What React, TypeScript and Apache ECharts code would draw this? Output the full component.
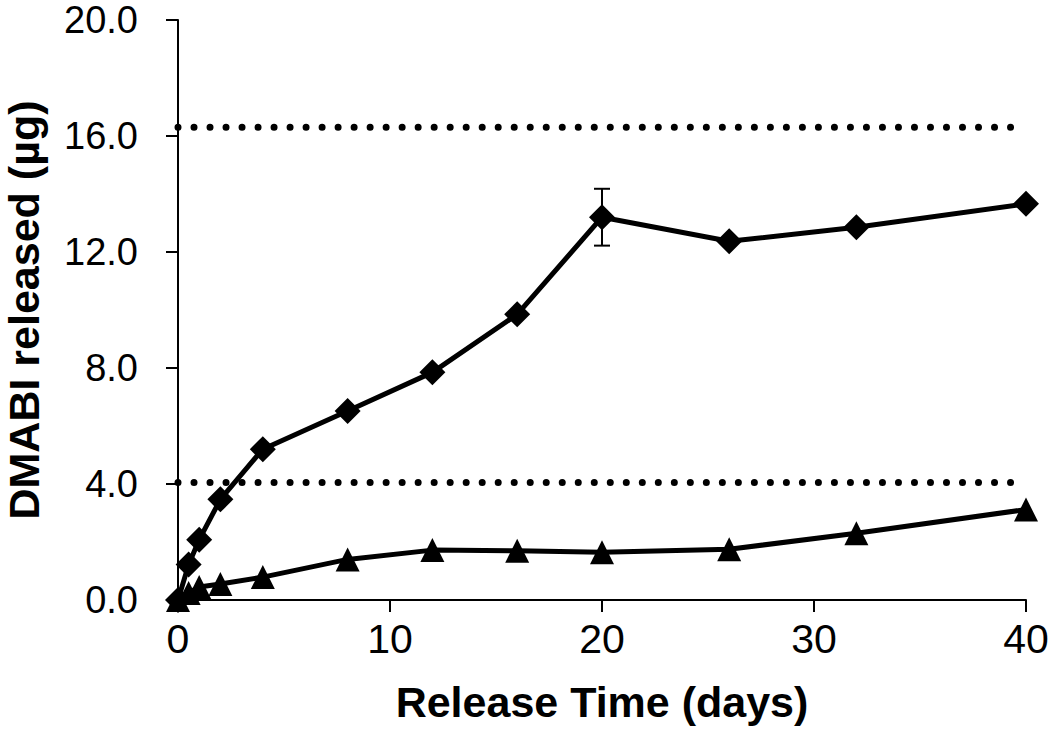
import React, { useEffect, useRef } from "react";
import * as echarts from "echarts";

const days = [0, 0.5, 1, 2, 4, 8, 12, 16, 20, 26, 32, 40];
const releasedHigh = [0, 1.22, 2.08, 3.47, 5.2, 6.52, 7.85, 9.85, 13.2, 12.37, 12.85, 13.66];
const releasedLow = [0, 0.24, 0.45, 0.55, 0.79, 1.4, 1.72, 1.7, 1.65, 1.75, 2.3, 3.12];
const errorBars = [[20, 12.22, 14.18]];
const upperLimit = 16.3;
const lowerLimit = 4.05;
const limitSpan = [0, 39.3];

const FONT = "'Liberation Sans', Arial, sans-serif";

export default function App() {
  const ref = useRef<HTMLDivElement>(null);
  useEffect(() => {
    document.body.style.margin = "0";
    const chart = echarts.init(ref.current!, null, { renderer: "svg" });
    const lineStyle = { color: "#000", width: 5 };
    const dotted = (v: number) => ({
      type: "line",
      data: limitSpan.map((x) => [x, v]),
      symbol: "none",
      silent: true,
      z: 1,
      lineStyle: { color: "#000", width: 7, type: [0.01, 16], cap: "round" },
    });
    chart.setOption({
      animation: false,
      backgroundColor: "#fff",
      grid: { left: 178, right: 24, top: 20, bottom: 141, containLabel: false, outerBoundsMode: "none" },
      xAxis: {
        type: "value",
        min: 0,
        max: 40,
        interval: 10,
        name: "Release Time (days)",
        nameLocation: "middle",
        nameGap: 80,
        nameTextStyle: { fontFamily: FONT, fontWeight: "bold", fontSize: 43, color: "#000" },
        axisLine: { show: true, onZero: false, lineStyle: { color: "#000", width: 2 } },
        axisTick: { show: true, length: 12, inside: false, lineStyle: { color: "#000", width: 2 } },
        splitLine: { show: false },
        axisLabel: { fontFamily: FONT, fontSize: 41, color: "#000", margin: 18 },
      },
      yAxis: {
        type: "value",
        min: 0,
        max: 20,
        interval: 4,
        name: "DMABI released (µg)",
        nameLocation: "middle",
        nameGap: 133,
        nameTextStyle: { fontFamily: FONT, fontWeight: "bold", fontSize: 43, color: "#000" },
        axisLine: { show: true, onZero: false, lineStyle: { color: "#000", width: 2 } },
        axisTick: { show: true, length: 12, inside: false, lineStyle: { color: "#000", width: 2 } },
        splitLine: { show: false },
        axisLabel: {
          fontFamily: FONT,
          fontSize: 38,
          lineHeight: 36,
          color: "#000",
          margin: 40,
          formatter: (v: number) => v.toFixed(1),
        },
      },
      series: [
        dotted(upperLimit),
        dotted(lowerLimit),
        {
          type: "line",
          data: days.map((d, i) => [d, releasedLow[i]]),
          symbol: "triangle",
          symbolSize: 24,
          itemStyle: { color: "#000" },
          lineStyle,
          z: 3,
        },
        {
          type: "line",
          data: days.map((d, i) => [d, releasedHigh[i]]),
          symbol: "diamond",
          symbolSize: 26,
          itemStyle: { color: "#000" },
          lineStyle,
          z: 4,
        },
        {
          type: "custom",
          data: errorBars,
          z: 5,
          renderItem: (params: any, api: any) => {
            const x = api.value(0);
            const lo = api.coord([x, api.value(1)]);
            const hi = api.coord([x, api.value(2)]);
            const hw = 8;
            const style = { stroke: "#000", lineWidth: 2 };
            return {
              type: "group",
              children: [
                { type: "line", shape: { x1: lo[0], y1: lo[1], x2: hi[0], y2: hi[1] }, style },
                { type: "line", shape: { x1: lo[0] - hw, y1: lo[1], x2: lo[0] + hw, y2: lo[1] }, style },
                { type: "line", shape: { x1: hi[0] - hw, y1: hi[1], x2: hi[0] + hw, y2: hi[1] }, style },
              ],
            };
          },
        },
      ],
    });
    return () => chart.dispose();
  }, []);
  return <div ref={ref} style={{ width: 1050, height: 741 }} />;
}
